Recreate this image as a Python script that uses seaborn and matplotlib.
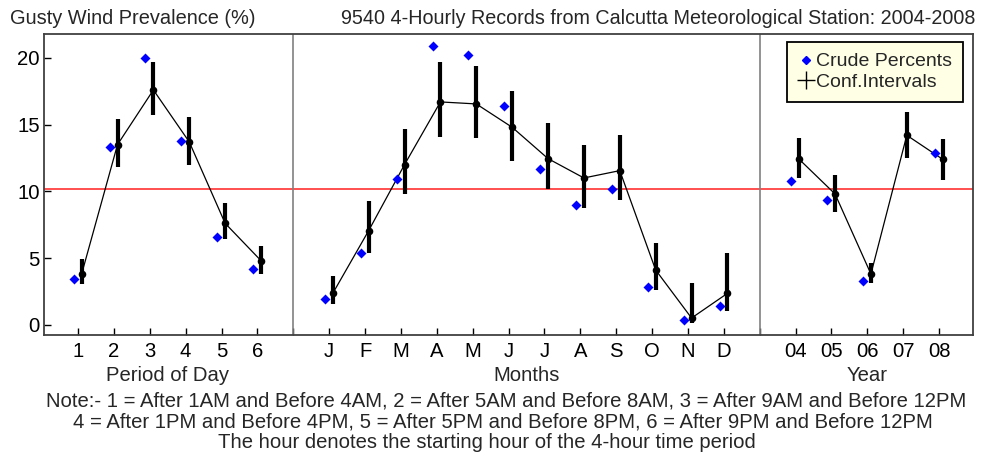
import numpy as np
import pandas as pd
import matplotlib
matplotlib.use("Agg")
import matplotlib.pyplot as plt
import seaborn as sns
from matplotlib.lines import Line2D

# ==========================================
# DATA
# ==========================================

period_labels = ["1", "2", "3", "4", "5", "6"]
period_crude = [3.4, 13.3, 20.0, 13.8, 6.6, 4.15]
period_est = [3.8, 13.5, 17.6, 13.7, 7.6, 4.8]
period_lo = [3.05, 11.8, 15.7, 12.0, 6.4, 3.8]
period_hi = [4.9, 15.4, 19.7, 15.6, 9.1, 5.9]

month_labels = ["J", "F", "M", "A", "M", "J", "J", "A", "S", "O", "N", "D"]
month_crude = [1.9, 5.4, 10.9, 20.9, 20.2, 16.4, 11.7, 9.0, 10.15, 2.8, 0.35, 1.4]
month_est = [2.35, 7.05, 12.0, 16.7, 16.55, 14.8, 12.45, 11.0, 11.55, 4.1, 0.5, 2.35]
month_lo = [1.55, 5.4, 9.8, 14.1, 14.0, 12.3, 10.2, 8.75, 9.35, 2.6, 0.1, 1.0]
month_hi = [3.65, 9.3, 14.7, 19.7, 19.4, 17.5, 15.1, 13.5, 14.2, 6.1, 3.15, 5.4]

year_labels = ["04", "05", "06", "07", "08"]
year_crude = [10.8, 9.35, 3.3, 17.2, 12.9]
year_est = [12.4, 9.8, 3.8, 14.2, 12.4]
year_lo = [11.0, 8.45, 3.1, 12.5, 10.85]
year_hi = [14.0, 11.25, 4.6, 15.95, 13.9]

overall_pct = 10.2

# ==========================================
# BUILD TABLE
# ==========================================

groups = [
    ("period", 1, period_labels, period_crude, period_est, period_lo, period_hi),
    ("month", 8, month_labels, month_crude, month_est, month_lo, month_hi),
    ("year", 21, year_labels, year_crude, year_est, year_lo, year_hi),
]

frames = []
for name, start, labels, crude, est, lo, hi in groups:
    frames.append(pd.DataFrame({
        "group": name,
        "pos": np.arange(start, start + len(labels)),
        "label": labels,
        "crude": crude,
        "est": est,
        "lo": lo,
        "hi": hi,
    }))
df = pd.concat(frames, ignore_index=True)

# ==========================================
# PLOT
# ==========================================

sns.set_style("ticks")
plt.rcParams["font.family"] = ["Liberation Sans", "DejaVu Sans"]

FS = 14.6

fig = plt.figure(figsize=(9.88, 4.58), dpi=100)
ax = fig.add_axes([0.0445, 0.2686, 0.9405, 0.6574])

ax.axhline(overall_pct, color="#ff3030", lw=1.2, zorder=1)
for sep in [7, 20]:
    ax.axvline(sep, color="#808080", lw=1.2, zorder=1)

ci_x = df["pos"] + 0.1
crude_x = df["pos"] - 0.12

sns.lineplot(x=ci_x, y=df["est"], units=df["group"], estimator=None,
             color="black", lw=0.9, ax=ax, zorder=2)
ax.vlines(ci_x, df["lo"], df["hi"], color="black", lw=3, zorder=3)
sns.scatterplot(x=ci_x, y=df["est"], color="black", s=30, linewidth=0,
                ax=ax, zorder=4)
sns.scatterplot(x=crude_x, y=df["crude"], color="#0000ff", marker="D", s=26,
                linewidth=0, ax=ax, zorder=4)

ax.set_xlim(0.05, 25.95)
ax.set_ylim(-0.77, 21.8)
ax.set_yticks([0, 5, 10, 15, 20])

xt = np.arange(1, 26)
lab_map = dict(zip(df["pos"], df["label"]))
ax.set_xticks(xt)
ax.set_xticklabels([lab_map.get(p, "") for p in xt])
ax.tick_params(direction="in", length=5, width=1, labelsize=FS,
               colors="black", pad=5)
ax.tick_params(axis="y", pad=3)
ax.set_xlabel("")
ax.set_ylabel("")
for s in ax.spines.values():
    s.set_color("#404040")
    s.set_linewidth(1.3)

# group labels under the ticks
for txt, xc in [("Period of Day", 3.5), ("Months", 13.5), ("Year", 23)]:
    ax.text(xc, -0.135, txt, transform=ax.get_xaxis_transform(),
            ha="center", va="center", fontsize=FS)

legend_handles = [
    Line2D([], [], marker="D", color="#0000ff", ls="none", markersize=4.5),
    Line2D([], [], marker="+", color="black", ls="none", markersize=13,
           markeredgewidth=1),
]
leg = ax.legend(legend_handles, ["Crude Percents", "Conf.Intervals"],
                loc="upper right", bbox_to_anchor=(0.989, 0.973),
                fontsize=14, frameon=True, fancybox=False,
                handlelength=0.8, handletextpad=0.15, borderpad=0.55,
                labelspacing=0.15, borderaxespad=0)
leg.get_frame().set_facecolor("#ffffe6")
leg.get_frame().set_edgecolor("black")
leg.get_frame().set_linewidth(1.3)
leg.get_frame().set_alpha(1)
leg.set_zorder(10)

fig.text(10 / 988, 1 - 18 / 458, "Gusty Wind Prevalence (%)",
         ha="left", va="center", fontsize=14.4)
fig.text(975 / 988, 1 - 18 / 458,
         "9540 4-Hourly Records from Calcutta Meteorological Station: 2004-2008",
         ha="right", va="center", fontsize=14.2,
         family=["Liberation Sans Narrow", "Liberation Sans"])

notes = [
    ("Note:- 1 = After 1AM and Before 4AM, 2 = After 5AM and Before 8AM, 3 = After 9AM and Before 12PM", 506, 401),
    ("4 = After 1PM and Before 4PM, 5 = After 5PM and Before 8PM, 6 = After 9PM and Before 12PM", 503, 422),
    ("The hour denotes the starting hour of the 4-hour time period", 487, 443),
]
for txt, xp, yp in notes:
    fig.text(xp / 988, 1 - yp / 458, txt, ha="center", va="center",
             fontsize=FS)

fig.savefig("out.png", dpi=100)
